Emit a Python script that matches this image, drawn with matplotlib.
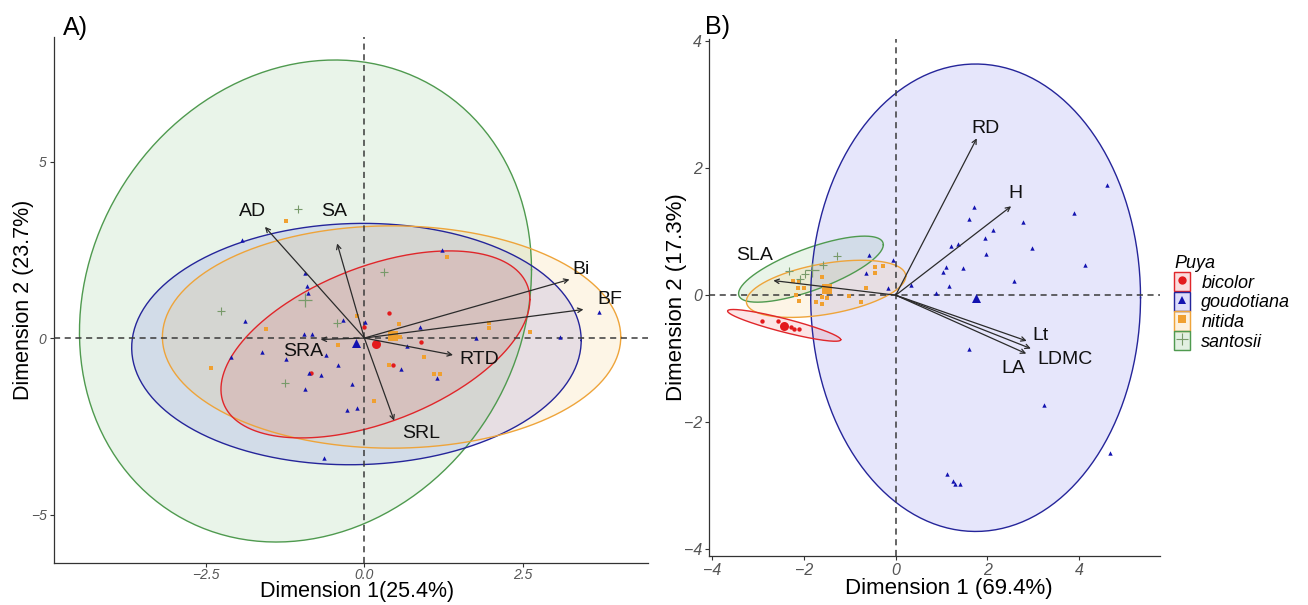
import matplotlib.pyplot as plt
import numpy as np
from matplotlib.patches import Patch
from matplotlib.lines import Line2D

plt.rcParams['font.family'] = ['Liberation Sans', 'DejaVu Sans']

species = ["bicolor", "goudotiana", "nitida", "santosii"]
col_line = {"bicolor": "#e0262a", "goudotiana": "#25259a", "nitida": "#eea43a", "santosii": "#4f9a4f"}
col_fill = {"bicolor": "#e41a1c", "goudotiana": "#1e1ee0", "nitida": "#f5a623", "santosii": "#3d9b3d"}
col_pt = {"bicolor": "#e31a1c", "goudotiana": "#1212b0", "nitida": "#f0a030", "santosii": "#789a6a"}
marker = {"bicolor": "o", "goudotiana": "^", "nitida": "s", "santosii": "+"}

# ---------------- panel A data ----------------
a_bic_x = [0.39, 0.89, 0.45, -0.85, 0.00]
a_bic_y = [0.72, -0.10, -0.76, -0.98, 0.30]
a_gou_x = [-1.94, -0.94, -0.91, -0.89, -1.89, -0.34, 0.01, -0.96, -0.83, -2.11, -1.62, -1.24,
           -0.61, -0.41, -0.88, -0.69, -0.93, -0.20, -0.28, -0.11, 1.22, 0.88, 3.71, 3.09,
           1.77, 0.67, 0.58, 1.14, -0.63]
a_gou_y = [2.78, 1.83, 1.47, 1.27, 0.49, 0.51, 0.46, 0.11, 0.11, -0.53, -0.40, -0.60,
           -0.47, -0.75, -1.00, -1.05, -1.43, -1.31, -2.04, -1.99, 2.49, 0.30, 0.74, 0.02,
           -0.01, -0.22, -0.87, -1.12, -3.41]
a_nit_x = [-1.23, 1.31, -1.55, -2.43, -0.12, 0.54, 0.56, -0.42, 0.94, 0.39, 1.10, 1.19,
           1.97, 1.97, 2.61, 0.15]
a_nit_y = [3.32, 2.30, 0.25, -0.84, 0.62, 0.40, 0.02, -0.21, -0.55, -0.76, -1.02, -1.02,
           0.42, 0.28, 0.17, -1.78]
a_san_x = [-1.05, 0.31, -2.26, -0.44, -1.25]
a_san_y = [3.65, 1.87, 0.77, 0.43, -1.27]
a_cent = {"bicolor": (0.18, -0.18), "goudotiana": (-0.13, -0.15),
          "nitida": (0.45, 0.06), "santosii": (-0.94, 1.08)}
# ellipse: centre x, centre y, sd x, sd y, correlation
a_ell = {"santosii": (-0.93, 1.05, 3.57, 6.83, 0.13),
         "goudotiana": (-0.125, -0.17, 3.55, 3.42, 0.03),
         "nitida": (0.43, 0.03, 3.62, 3.15, 0.0),
         "bicolor": (0.175, -0.18, 2.44, 2.65, 0.48)}
a_var = ["AD", "SA", "Bi", "BF", "RTD", "SRA", "SRL"]
a_var_x = [-1.57, -0.43, 3.24, 3.46, 1.40, -0.69, 0.47]
a_var_y = [3.15, 2.68, 1.66, 0.81, -0.48, -0.04, -2.34]
a_lab_x = [-1.77, -0.47, 3.43, 3.88, 1.81, -0.96, 0.90]
a_lab_y = [3.58, 3.58, 1.95, 1.10, -0.62, -0.39, -2.70]

# ---------------- panel B data ----------------
b_bic_x = [-2.92, -2.58, -2.28, -2.22, -2.11]
b_bic_y = [-0.40, -0.40, -0.50, -0.53, -0.53]
b_gou_x = [4.62, 1.70, 1.61, 2.79, 3.90, 2.12, 1.94, 1.20, 1.36, 2.98, 1.98, 4.13, 1.10, 1.04,
           1.47, 2.59, 1.17, 0.33, 0.88, 1.60, 3.23, 4.68, 1.12, 1.26, 1.30, 1.41, -0.05,
           -0.16, -0.58, -0.65]
b_gou_y = [1.73, 1.39, 1.20, 1.15, 1.29, 1.03, 0.90, 0.77, 0.80, 0.75, 0.65, 0.48, 0.44, 0.37,
           0.43, 0.23, 0.14, 0.16, 0.03, -0.85, -1.73, -2.48, -2.82, -2.92, -2.98, -2.97, 0.56,
           0.12, 0.63, 0.35]
b_nit_x = [-2.25, -2.11, -2.14, -2.01, -2.17, -2.10, -1.74, -1.61, -1.61, -1.49, -1.01, -0.76,
           -0.65, -0.46, -0.28, -0.46, -1.61]
b_nit_y = [0.23, 0.23, 0.12, 0.12, 0.00, -0.09, -0.10, -0.14, 0.28, -0.05, -0.02, -0.10,
           0.11, 0.45, 0.46, 0.35, -0.03]
b_san_x = [-2.34, -2.09, -1.99, -1.59, -1.28]
b_san_y = [0.38, 0.25, 0.34, 0.47, 0.61]
b_cent = {"bicolor": (-2.43, -0.48), "goudotiana": (1.75, -0.04),
          "nitida": (-1.50, 0.09), "santosii": (-1.83, 0.40)}
b_ell = {"goudotiana": (1.745, -0.04, 3.60, 3.68, 0.0),
         "santosii": (-1.85, 0.41, 1.58, 0.52, 0.74),
         "nitida": (-1.52, 0.10, 1.74, 0.45, 0.44),
         "bicolor": (-2.435, -0.475, 1.235, 0.25, -0.9)}
b_var = ["RD", "H", "SLA", "Lt", "LDMC", "LA"]
b_var_x = [1.77, 2.52, -2.67, 2.86, 2.95, 2.85]
b_var_y = [2.47, 1.40, 0.23, -0.72, -0.84, -0.92]
b_lab_x = [1.97, 2.61, -3.08, 3.16, 3.70, 2.57]
b_lab_y = [2.62, 1.60, 0.63, -0.63, -1.01, -1.15]


def ellipse_xy(cx, cy, sx, sy, r):
    cov = np.array([[sx * sx, r * sx * sy], [r * sx * sy, sy * sy]])
    L = np.linalg.cholesky(cov)
    t = np.linspace(0, 2 * np.pi, 300)
    pts = L @ np.vstack([np.cos(t), np.sin(t)])
    return cx + pts[0], cy + pts[1]


def draw_panel(ax, ell, pts, cent, var, vx, vy, lx, ly, tick_fs, pad):
    for sp in ["santosii", "goudotiana", "nitida", "bicolor"]:
        ex, ey = ellipse_xy(*ell[sp])
        ax.fill(ex, ey, color=col_fill[sp], alpha=0.11, lw=0, zorder=1)
        ax.plot(ex, ey, color=col_line[sp], lw=1.0, zorder=2)
    ax.axhline(0, color="#3a3a3a", lw=1.1, ls=(0, (4, 3)), zorder=3)
    ax.axvline(0, color="#3a3a3a", lw=1.1, ls=(0, (4, 3)), zorder=3)
    for sp in species:
        x, y = pts[sp]
        if sp == "santosii":
            ax.scatter(x, y, marker="+", s=30, color=col_pt[sp], lw=0.8, zorder=4)
            ax.scatter(*cent[sp], marker="+", s=110, color=col_pt[sp], lw=0.9, zorder=4)
        else:
            ax.scatter(x, y, marker=marker[sp], s=10, color=col_pt[sp], lw=0, zorder=4)
            ax.scatter(*cent[sp], marker=marker[sp], s=42, color=col_pt[sp], lw=0, zorder=4)
    for name, x, y, tx, ty in zip(var, vx, vy, lx, ly):
        ax.annotate("", xy=(x, y), xytext=(0, 0),
                    arrowprops=dict(arrowstyle="->", color="#2b2b2b", lw=0.9,
                                    shrinkA=0, shrinkB=0, mutation_scale=8), zorder=5)
        ax.text(tx, ty, name, fontsize=14, ha="center", va="center", color="#111111", zorder=6)
    for s in ["top", "right"]:
        ax.spines[s].set_visible(False)
    for s in ["left", "bottom"]:
        ax.spines[s].set_color("#333333")
        ax.spines[s].set_linewidth(0.9)
    ax.tick_params(colors="#333333", length=3, width=0.8, pad=2)
    ax.tick_params(axis="x", pad=pad)
    for lab in ax.get_xticklabels() + ax.get_yticklabels():
        lab.set_fontstyle("italic")
        lab.set_color("#555555")
        lab.set_fontsize(tick_fs)


fig = plt.figure(figsize=(13.08, 6.05), dpi=100)

axA = fig.add_axes([53.5 / 1308, 1 - 562.5 / 605, (648 - 53.5) / 1308, (562.5 - 36.7) / 605])
axA.set_xlim(-4.91, 4.48)
axA.set_ylim(-6.36, 8.54)
axA.set_xticks([-2.5, 0, 2.5])
axA.set_xticklabels(["\u22122.5", "0.0", "2.5"])
axA.set_yticks([-5, 0, 5])
axA.set_yticklabels(["\u22125", "0", "5"])
ptsA = {"bicolor": (a_bic_x, a_bic_y), "goudotiana": (a_gou_x, a_gou_y),
        "nitida": (a_nit_x, a_nit_y), "santosii": (a_san_x, a_san_y)}
draw_panel(axA, a_ell, ptsA, a_cent, a_var, a_var_x, a_var_y, a_lab_x, a_lab_y, 10, 0.8)
axA.set_xlabel("Dimension 1(25.4%)", fontsize=15.5)
axA.set_ylabel("Dimension 2 (23.7%)", fontsize=15.5)
axA.xaxis.set_label_coords(0.5105, -0.035)
axA.yaxis.set_label_coords(-0.032, 0.5)

axB = fig.add_axes([708.8 / 1308, 1 - 555.6 / 605, (1160 - 708.8) / 1308, (555.6 - 38.6) / 605])
axB.set_xlim(-4.08, 5.77)
axB.set_ylim(-4.10, 4.04)
axB.set_xticks([-4, -2, 0, 2, 4])
axB.set_xticklabels(["\u22124", "\u22122", "0", "2", "4"])
axB.set_yticks([-4, -2, 0, 2, 4])
axB.set_yticklabels(["\u22124", "\u22122", "0", "2", "4"])
ptsB = {"bicolor": (b_bic_x, b_bic_y), "goudotiana": (b_gou_x, b_gou_y),
        "nitida": (b_nit_x, b_nit_y), "santosii": (b_san_x, b_san_y)}
draw_panel(axB, b_ell, ptsB, b_cent, b_var, b_var_x, b_var_y, b_lab_x, b_lab_y, 11.5, 2)
axB.set_xlabel("Dimension 1 (69.4%)", fontsize=16)
axB.set_ylabel("Dimension 2 (17.3%)", fontsize=16)
axB.xaxis.set_label_coords(0.533, -0.0433)
axB.yaxis.set_label_coords(-0.048, 0.5)

fig.text(63 / 1308, 1 - 35 / 605, "A)", fontsize=18, va="baseline")
fig.text(705 / 1308, 1 - 34 / 605, "B)", fontsize=18, va="baseline")

handles = []
for sp in species:
    box = Patch(facecolor=col_fill[sp], alpha=0.15, edgecolor=col_line[sp], lw=1.0)
    edge = Patch(facecolor="none", edgecolor=col_line[sp], lw=1.0)
    if sp == "santosii":
        mk = Line2D([], [], marker="+", color=col_pt[sp], ls="none", ms=9, mew=0.8)
    else:
        mk = Line2D([], [], marker=marker[sp], color=col_pt[sp], ls="none", ms=6, mew=0)
    handles.append((box, edge, mk))
leg = fig.legend(handles, species, loc="upper left", bbox_to_anchor=(1167 / 1308, 1 - 248 / 605),
                 frameon=False, handlelength=0.9, handleheight=1.25, handletextpad=0.6,
                 labelspacing=0.0, borderaxespad=0, alignment="left",
                 prop={"style": "italic", "size": 13},
                 title="Puya", title_fontproperties={"style": "italic", "size": 13})

fig.savefig("out.png", dpi=100)
